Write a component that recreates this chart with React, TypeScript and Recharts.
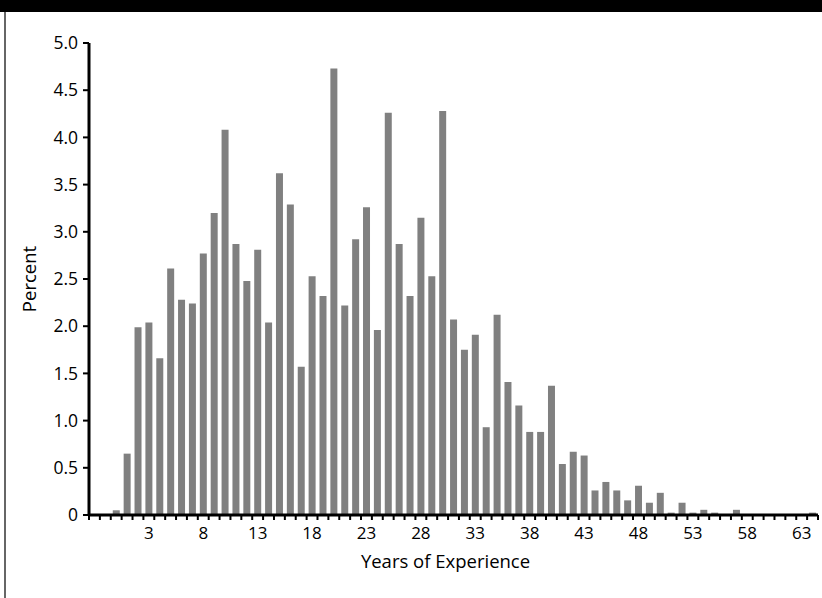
import { Bar, BarChart, Label, XAxis, YAxis } from 'recharts';

// years of experience, one bar per year
const years = [
  0, 1, 2, 3, 4, 5, 6, 7, 8, 9, 10, 11, 12, 13, 14, 15, 16, 17, 18, 19, 20,
  21, 22, 23, 24, 25, 26, 27, 28, 29, 30, 31, 32, 33, 34, 35, 36, 37, 38, 39,
  40, 41, 42, 43, 44, 45, 46, 47, 48, 49, 50, 51, 52, 53, 54, 55, 56, 57, 58,
  59, 60, 61, 62, 63, 64,
];

// percent of respondents
const percent = [
  0.05, 0.65, 1.99, 2.04, 1.66, 2.61, 2.28, 2.24, 2.77, 3.2, 4.08,
  2.87, 2.48, 2.81, 2.04, 3.62, 3.29, 1.57, 2.53, 2.32, 4.73,
  2.22, 2.92, 3.26, 1.96, 4.26, 2.87, 2.32, 3.15, 2.53, 4.28,
  2.07, 1.75, 1.91, 0.93, 2.12, 1.41, 1.16, 0.88, 0.88, 1.37,
  0.54, 0.67, 0.63, 0.26, 0.35, 0.26, 0.155, 0.31, 0.13, 0.235,
  0.025, 0.13, 0.025, 0.055, 0.025, 0, 0.055, 0, 0, 0, 0, 0, 0, 0.025,
];

const yearLabels = [3, 8, 13, 18, 23, 28, 33, 38, 43, 48, 53, 58, 63];
const percentTicks = [0, 0.5, 1, 1.5, 2, 2.5, 3, 3.5, 4, 4.5, 5];

const xDomain: [number, number] = [-2.5, 64.5];
// tick marks sit on the boundaries between the yearly bars
const boundaryTicks = Array.from({ length: 68 }, (_, i) => i - 2.5);

const data = years.map((year, i) => ({ year, percent: percent[i] }));

const font = '"Open Sans", "DejaVu Sans", sans-serif';

export default function App() {
  return (
    <div
      style={{
        position: 'absolute',
        left: 0,
        top: 0,
        width: 822,
        height: 598,
        background: '#fff',
        overflow: 'hidden',
        fontFamily: font,
      }}
    >
      <div style={{ position: 'absolute', left: 0, top: 0, width: 822, height: 12, background: '#000' }} />
      <div style={{ position: 'absolute', left: 4, top: 12, width: 2, height: 586, background: '#666' }} />
      <div style={{ position: 'absolute', left: 0, top: 0 }}>
        <BarChart
          width={822}
          height={598}
          data={data}
          margin={{ top: 43, right: 4, bottom: 0, left: 0 }}
        >
          <XAxis
            xAxisId="a"
            dataKey="year"
            type="number"
            domain={xDomain}
            allowDataOverflow
            ticks={boundaryTicks}
            interval={0}
            tickFormatter={() => ''}
            height={12}
            tickSize={5}
            axisLine={{ stroke: '#000', strokeWidth: 3 }}
            tickLine={{ stroke: '#000', strokeWidth: 2 }}
          />
          <XAxis
            xAxisId="b"
            dataKey="year"
            type="number"
            domain={xDomain}
            allowDataOverflow
            ticks={yearLabels}
            interval={0}
            height={71}
            tickSize={0}
            tickMargin={0}
            axisLine={false}
            tickLine={false}
            tick={{ fill: '#000', fontSize: 17, fontFamily: font }}
          >
            <Label
              value="Years of Experience"
              position="insideTop"
              offset={28}
              dx={-8}
              style={{ fill: '#000', fontSize: 18.5, fontFamily: font }}
            />
          </XAxis>
          <YAxis
            type="number"
            domain={[0, 5]}
            ticks={percentTicks}
            interval={0}
            width={89}
            tickSize={6}
            tickMargin={5}
            tickFormatter={(v: number) => (v === 0 ? '0' : v.toFixed(1))}
            axisLine={{ stroke: '#000', strokeWidth: 3 }}
            tickLine={{ stroke: '#000', strokeWidth: 2 }}
            tick={{ fill: '#000', fontSize: 17.5, fontFamily: font }}
          >
            <Label
              value="Percent"
              angle={-90}
              position="insideLeft"
              offset={29}
              style={{ fill: '#000', fontSize: 18.5, fontFamily: font, textAnchor: 'middle' }}
            />
          </YAxis>
          <Bar
            xAxisId="a"
            dataKey="percent"
            fill="#808080"
            barSize={7}
            isAnimationActive={false}
          />
        </BarChart>
      </div>
    </div>
  );
}
